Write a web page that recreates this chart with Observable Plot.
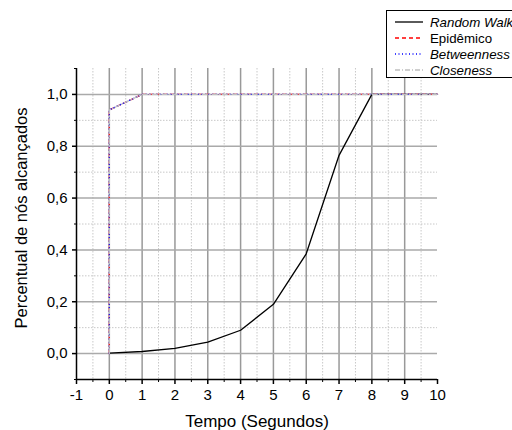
<!DOCTYPE html>
<html>
<head>
<meta charset="utf-8">
<script src="https://cdn.jsdelivr.net/npm/d3@7"></script>
<script src="https://cdn.jsdelivr.net/npm/@observablehq/plot@0.6"></script>
<style>
  html, body { margin: 0; padding: 0; background: #fff; }
  #chart { width: 512px; height: 430px; }
</style>
</head>
<body>
<div id="chart"></div>
<script>
// ---- data ----
const time = [0, 1, 2, 3, 4, 5, 6, 7, 8, 9, 10];
const randomWalk = [0.002, 0.008, 0.02, 0.044, 0.09, 0.19, 0.385, 0.765, 1.0, 1.0, 1.0];
const floodTime = [0, 0, 1, 2, 3, 4, 5, 6, 7, 8, 9, 10];
const epidemico = [0, 0.94, 1, 1, 1, 1, 1, 1, 1, 1, 1, 1];
const betweenness = [0, 0.94, 1, 1, 1, 1, 1, 1, 1, 1, 1, 1];
const closeness = [0, 0.94, 1, 1, 1, 1, 1, 1, 1, 1, 1, 1];

const xTicks = [-1, 0, 1, 2, 3, 4, 5, 6, 7, 8, 9, 10];
const xMinor = [-0.5, 0.5, 1.5, 2.5, 3.5, 4.5, 5.5, 6.5, 7.5, 8.5, 9.5];
const xGrid = [0, 1, 2, 3, 4, 5, 6, 7, 8, 9];
const yTicks = [0, 0.2, 0.4, 0.6, 0.8, 1.0];
const yMinor = [-0.1, 0.1, 0.3, 0.5, 0.7, 0.9, 1.1];
const yMinorGrid = [0.1, 0.3, 0.5, 0.7, 0.9];

const seriesNames = ["Random Walk", "Epidêmico", "Betweenness", "Closeness"];
const seriesColors = ["#000000", "#ff0000", "#0000ff", "#c0c0c0"];
const seriesDash = [null, "4,3", "1,2.5", "5,2,1,2"];
const seriesItalic = [true, false, true, true];

const toRows = (xs, ys) => xs.map((x, i) => ({x, y: ys[i]}));
const data = [
  toRows(time, randomWalk),
  toRows(floodTime, epidemico),
  toRows(floodTime, betweenness),
  toRows(floodTime, closeness)
];

const fmt = d => d.toFixed(1).replace(".", ",");
const FONT = "'Liberation Sans', Arial, sans-serif";

const chart = Plot.plot({
  width: 512,
  height: 430,
  marginLeft: 76,
  marginRight: 75,
  marginTop: 68,
  marginBottom: 51,
  style: {fontFamily: FONT, fontSize: "15px", background: "#fff", color: "#000"},
  x: {domain: [-1, 10], label: null},
  y: {domain: [-0.1, 1.1], label: null},
  marks: [
    // minor grid
    Plot.ruleX(xMinor, {stroke: "#c8c8c8", strokeDasharray: "1.5,1.5", strokeWidth: 1}),
    Plot.ruleY(yMinorGrid, {stroke: "#c8c8c8", strokeDasharray: "1.5,1.5", strokeWidth: 1}),
    // major grid
    Plot.ruleX(xGrid, {stroke: "#999", strokeWidth: 1.5}),
    Plot.ruleY(yTicks, {stroke: "#aaa", strokeWidth: 1.5}),
    // axes
    Plot.axisX(xTicks, {tickSize: 5, tickPadding: 5, tickFormat: d => String(d), fontSize: 15, stroke: "#000", strokeWidth: 1.5}),
    Plot.axisX(xMinor, {tickSize: 3, text: null, stroke: "#000"}),
    Plot.axisY(yTicks, {tickSize: 4, tickPadding: 5, tickFormat: fmt, fontSize: 15, stroke: "#000", strokeWidth: 1.5}),
    Plot.axisY(yMinor, {tickSize: 2, text: null, stroke: "#000"}),
    Plot.ruleY([-0.1], {stroke: "#000", strokeWidth: 1.5}),
    Plot.ruleX([-1], {stroke: "#000", strokeWidth: 1.5}),
    // series
    ...data.map((rows, i) => Plot.line(rows, {
      x: "x", y: "y",
      stroke: seriesColors[i],
      strokeWidth: 1.3,
      strokeDasharray: seriesDash[i],
      curve: "linear"
    }))
  ]
});

const svg = d3.select(chart);
svg.style("overflow", "visible");

// axis titles
svg.append("text")
  .attr("x", 257).attr("y", 427)
  .attr("text-anchor", "middle")
  .style("font-family", FONT)
  .style("font-size", "17px")
  .text("Tempo (Segundos)");

svg.append("text")
  .attr("transform", "translate(27,218) rotate(-90)")
  .attr("text-anchor", "middle")
  .style("font-family", FONT)
  .style("font-size", "16.5px")
  .text("Percentual de nós alcançados");

// legend
const lg = svg.append("g");
lg.append("rect")
  .attr("x", 386.5).attr("y", 10.5).attr("width", 140).attr("height", 67)
  .attr("fill", "#fff").attr("stroke", "#000").attr("stroke-width", 1);
seriesNames.forEach((name, i) => {
  const cy = 22 + i * 16;
  lg.append("line")
    .attr("x1", 395).attr("x2", 423).attr("y1", cy).attr("y2", cy)
    .attr("stroke", seriesColors[i]).attr("stroke-width", 1.3)
    .attr("stroke-dasharray", seriesDash[i]);
  lg.append("text")
    .attr("x", 430).attr("y", cy + 4.7)
    .attr("text-anchor", "start")
    .style("font-family", FONT)
    .style("font-size", "13.3px")
    .style("font-style", seriesItalic[i] ? "italic" : "normal")
    .text(name);
});

document.getElementById("chart").appendChild(chart);
</script>
</body>
</html>
